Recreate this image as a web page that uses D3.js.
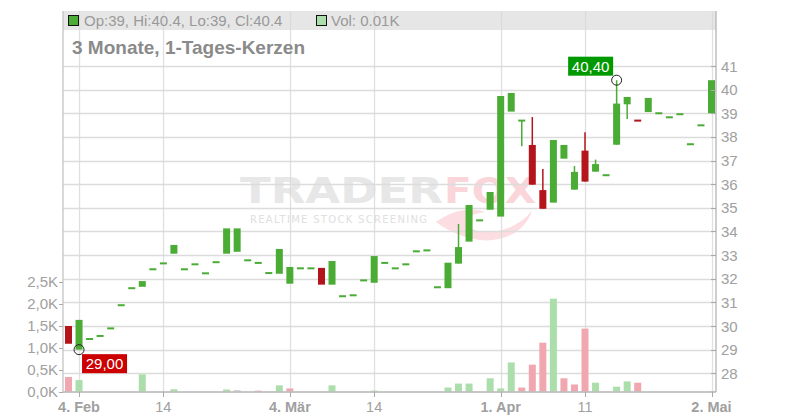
<!DOCTYPE html>
<html><head><meta charset="utf-8">
<script src="https://cdn.jsdelivr.net/npm/d3@7"></script>
<style>html,body{margin:0;padding:0;background:#fff;}svg{display:block;font-family:"Liberation Sans",Arial,sans-serif;}</style>
</head><body><svg id="c" width="800" height="420"></svg>
<script>
// ---- data ----
const dates = ["01.02","04.02","05.02","06.02","07.02","08.02","11.02","12.02","13.02","14.02","15.02","18.02","19.02","20.02","21.02","22.02","25.02","26.02","27.02","28.02",
"01.03","04.03","05.03","06.03","07.03","08.03","11.03","12.03","13.03","14.03","15.03","18.03","19.03","20.03","21.03","22.03","25.03","26.03","27.03","28.03","29.03",
"01.04","02.04","03.04","04.04","05.04","08.04","09.04","10.04","11.04","12.04","15.04","16.04","17.04","18.04","23.04","24.04","25.04","26.04","29.04","30.04","02.05"];
const open  = [30.0,29.0,29.45,29.58,29.9,30.88,31.6,31.66,32.4,32.65,33.06,32.4,32.61,32.23,32.7,33.06,33.14,32.78,32.66,32.24,
32.21,31.79,32.44,32.44,32.46,31.75,31.26,31.3,31.93,31.83,32.67,32.44,32.61,33.16,33.2,31.64,31.6,32.64,33.57,34.47,34.92,
34.63,39.07,38.69,37.66,35.75,35.22,37.08,35.77,37.42,36.53,36.38,37.67,39.38,38.72,39.05,39.0,38.83,38.96,37.69,38.49,39.0];
const close = [29.25,30.26,29.45,29.58,29.9,30.88,31.6,31.9,32.4,32.65,33.43,32.4,32.61,32.23,32.7,34.13,34.13,32.78,32.68,32.24,
33.26,32.5,32.44,32.44,31.75,32.75,31.26,31.3,31.93,32.96,32.67,32.44,32.61,33.16,33.2,31.64,32.68,33.34,35.12,34.47,35.67,
39.73,39.86,38.69,35.98,34.96,37.87,37.66,36.52,36.11,36.85,36.38,39.41,39.69,38.66,39.65,39.0,38.83,38.96,37.69,38.49,40.4];
const high  = [30.0,30.26,29.45,29.58,29.9,30.88,31.6,31.9,32.4,32.65,33.43,32.4,32.61,32.23,32.7,34.13,34.13,32.78,32.68,32.24,
33.26,32.5,32.44,32.44,32.46,32.75,31.26,31.3,31.93,32.96,32.67,32.44,32.61,33.16,33.2,31.64,32.68,34.32,35.12,34.47,35.67,
39.73,39.86,38.69,38.84,36.64,37.87,37.66,36.77,38.2,37.04,36.38,40.4,39.69,38.72,39.65,39.0,38.83,38.96,37.69,38.49,40.4];
const low   = [29.25,29.0,29.45,29.58,29.9,30.88,31.6,31.66,32.4,32.65,33.06,32.4,32.61,32.23,32.7,33.06,33.14,32.78,32.66,32.24,
32.21,31.79,32.44,32.44,31.75,31.75,31.26,31.3,31.93,31.83,32.67,32.44,32.61,33.16,33.2,31.64,31.6,32.64,33.57,34.47,34.92,
34.63,39.07,37.6,35.98,34.96,35.22,37.08,35.77,36.11,36.53,36.38,37.67,38.76,38.66,39.05,39.0,38.83,38.96,37.69,38.49,39.0];
const volumeK = [0.33,0.26,0,0,0,0,0,0.39,0,0,0.05,0,0,0,0,0.045,0.03,0,0.02,0,
0.14,0.07,0,0,0,0.14,0,0,0,0.02,0,0,0,0,0,0,0.09,0.18,0.18,0,0.3,
0.07,0.66,0.09,0.61,1.11,2.11,0.3,0.16,1.43,0.2,0,0.11,0.23,0.2,0,0,0,0,0,0,0.01];
const prevClose0 = 30.2;
const xTicks = [{i:1,t:"4. Feb",b:true},{i:9,t:"14",b:false},{i:21,t:"4. Mär",b:true},{i:29,t:"14",b:false},{i:41,t:"1. Apr",b:true},{i:49,t:"11",b:false},{i:61,t:"2. Mai",b:true}];
const priceTicks = [28,29,30,31,32,33,34,35,36,37,38,39,40,41];
const volTicks = [0,0.5,1.0,1.5,2.0,2.5];
const title = "3 Monate, 1-Tages-Kerzen";
const legendText = "Op:39, Hi:40.4, Lo:39, Cl:40.4";
const legendVol = "Vol: 0.01K";
const lowMark = {i:1, v:29.0, t:"29,00"};
const highMark = {i:52, v:40.4, t:"40,40"};

// ---- layout ----
const L=63, R=716, T=11, B=392;
const GREEN="#4aab35", RED="#b4141b", VGREEN="#abdeab", VRED="#f0a7b0", VGRAY="#cccccc";
const svg = d3.select("#c");
const x = d3.scaleLinear().domain([0,61]).range([68.5,711.5]);
const y = d3.scaleLinear().domain([28,41]).range([373.3,66]);
const yv = d3.scaleLinear().domain([0,2.5]).range([391.5,281.5]);

// watermark
const wm = svg.append("g");
wm.append("text").attr("x",240).attr("y",203).attr("textLength",203).attr("lengthAdjust","spacingAndGlyphs")
  .attr("font-size",36).attr("font-weight","bold").attr("font-family","DejaVu Sans").attr("fill","#e7e7e7").text("TRADER");
wm.append("text").attr("x",444).attr("y",203).attr("textLength",92).attr("lengthAdjust","spacingAndGlyphs")
  .attr("font-size",36).attr("font-weight","bold").attr("font-family","DejaVu Sans").attr("fill","#fad6da").text("FOX");
wm.append("path").attr("d","M436,222 C450,212 468,206 485,212 C470,214 462,220 470,228 C490,238 520,228 532,210 C526,234 496,246 470,238 C455,234 444,228 436,222 Z")
  .attr("fill","#fcdde1");
wm.append("text").attr("x",250).attr("y",223).attr("textLength",177).attr("lengthAdjust","spacing")
  .attr("font-size",10).attr("font-family","DejaVu Sans").attr("fill","#e0e0e0").text("REALTIME STOCK SCREENING");

// legend bar
svg.append("rect").attr("x",L).attr("y",T).attr("width",R-L).attr("height",19).attr("fill","#e6e6e6");

// grid
const g = svg.append("g");
g.selectAll("line.h").data(priceTicks).join("line")
  .attr("x1",L).attr("x2",R).attr("y1",d=>Math.round(y(d))+0.5).attr("y2",d=>Math.round(y(d))+0.5)
  .attr("stroke","#dcdcdc").attr("stroke-width",1.3);
g.selectAll("line.v").data(xTicks).join("line")
  .attr("x1",d=>Math.round(x(d.i))+0.5).attr("x2",d=>Math.round(x(d.i))+0.5).attr("y1",T).attr("y2",B)
  .attr("stroke","#d8d8d8").attr("stroke-opacity",0.8).attr("stroke-width",1.3);

// legend content
svg.append("rect").attr("x",68.5).attr("y",15.5).attr("width",10).attr("height",10).attr("fill",GREEN).attr("stroke","#111");
svg.append("text").attr("x",84).attr("y",26).attr("font-size",15).attr("fill","#999").text(legendText);
svg.append("rect").attr("x",316.5).attr("y",15.5).attr("width",10).attr("height",10).attr("fill",VGREEN).attr("stroke","#111");
svg.append("text").attr("x",331).attr("y",26).attr("font-size",15).attr("fill","#999").text(legendVol);
svg.append("text").attr("x",72).attr("y",54).attr("font-size",19).attr("font-weight","bold").attr("fill","#8a8a8a").text(title);

// volume
const idx = d3.range(dates.length);
svg.append("g").selectAll("rect").data(idx.filter(i=>volumeK[i]>0)).join("rect")
  .attr("x",i=>x(i)-3.5).attr("width",7)
  .attr("y",i=>yv(volumeK[i])).attr("height",i=>yv(0)-yv(volumeK[i]))
  .attr("fill",i=>{const p=i===0?prevClose0:close[i-1]; return close[i]>p?VGREEN:(close[i]<p?VRED:VGRAY);});

// candles
const cg = svg.append("g");
const col = i=> close[i]<open[i]?RED:GREEN;
cg.selectAll("line").data(idx.filter(i=>high[i]>Math.max(open[i],close[i])||low[i]<Math.min(open[i],close[i]))).join("line")
  .attr("x1",i=>x(i)).attr("x2",i=>x(i)).attr("y1",i=>y(high[i])).attr("y2",i=>y(low[i]))
  .attr("stroke",col).attr("stroke-width",1.5);
cg.selectAll("rect").data(idx).join("rect")
  .attr("x",i=>x(i)-3.5).attr("width",7)
  .attr("y",i=>{const t=y(Math.max(open[i],close[i])), b=y(Math.min(open[i],close[i])); return b-t<2?(t+b)/2-1:t;})
  .attr("height",i=>Math.max(2,y(Math.min(open[i],close[i]))-y(Math.max(open[i],close[i]))))
  .attr("fill",col);

// axes lines
svg.append("line").attr("x1",L).attr("x2",R).attr("y1",B).attr("y2",B).attr("stroke","#b4b4b4").attr("stroke-width",1.5);
svg.append("line").attr("x1",L).attr("x2",L).attr("y1",T).attr("y2",B).attr("stroke","#c4c4c4").attr("stroke-width",1.3);
svg.append("line").attr("x1",R).attr("x2",R).attr("y1",T).attr("y2",B).attr("stroke","#b4b4b4").attr("stroke-width",1.3);

// right axis
const ra = svg.append("g");
ra.selectAll("line").data(priceTicks).join("line").attr("x1",R-5).attr("x2",R).attr("y1",d=>Math.round(y(d))+0.5).attr("y2",d=>Math.round(y(d))+0.5).attr("stroke","#aaa");
ra.selectAll("text").data(priceTicks).join("text").attr("x",721).attr("y",d=>y(d)+5.5).attr("font-size",15).attr("fill","#a0a0a0").text(d=>d);

// left axis
const la = svg.append("g");
la.selectAll("line").data(volTicks).join("line").attr("x1",L-4).attr("x2",L).attr("y1",d=>Math.round(yv(d))+0.5).attr("y2",d=>Math.round(yv(d))+0.5).attr("stroke","#aaa");
la.selectAll("text").data(volTicks).join("text").attr("x",58).attr("y",d=>yv(d)+5.5).attr("text-anchor","end").attr("font-size",15).attr("fill","#a0a0a0")
  .text(d=>d3.format(".1f")(d).replace(".",",")+"K");

// bottom axis
const ba = svg.append("g");
ba.selectAll("line").data(xTicks).join("line").attr("x1",d=>Math.round(x(d.i))+0.5).attr("x2",d=>Math.round(x(d.i))+0.5).attr("y1",B).attr("y2",B+5).attr("stroke","#aaa");
ba.selectAll("text").data(xTicks).join("text").attr("x",d=>x(d.i)).attr("y",412).attr("text-anchor","middle")
  .attr("font-size",14.5).attr("font-weight",d=>d.b?"bold":"normal").attr("fill","#a0a0a0").text(d=>d.t);

// markers
function mark(m, bx, by, fill){
  svg.append("circle").attr("cx",x(m.i)).attr("cy",y(m.v)).attr("r",5).attr("fill","none").attr("stroke","#222").attr("stroke-width",1);
  svg.append("rect").attr("x",bx).attr("y",by).attr("width",45).attr("height",19).attr("fill",fill);
  svg.append("text").attr("x",bx+22.5).attr("y",by+15).attr("text-anchor","middle").attr("font-size",15).attr("fill","#fff").text(m.t);
}
mark(lowMark, x(lowMark.i)+3, y(lowMark.v)+4.5, "#cc0000");
mark(highMark, x(highMark.i)-48.5, y(highMark.v)-23.5, "#009900");
</script></body></html>
